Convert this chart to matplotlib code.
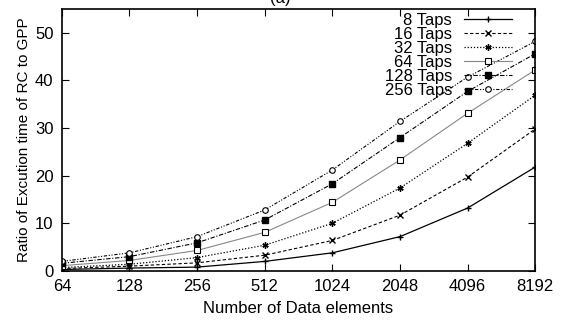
import matplotlib
matplotlib.use("Agg")
import matplotlib.pyplot as plt

plt.rcParams['font.family'] = ['Liberation Sans', 'DejaVu Sans']

data_elements = [64, 128, 256, 512, 1024, 2048, 4096, 8192]
taps_8   = [0.3, 0.6, 0.8, 2.0, 3.8, 7.2, 13.2, 21.8]
taps_16  = [0.5, 1.0, 1.7, 3.3, 6.4, 11.7, 19.7, 29.8]
taps_32  = [0.7, 1.4, 2.8, 5.4, 10.0, 17.4, 26.8, 36.9]
taps_64  = [1.1, 2.2, 4.3, 8.1, 14.4, 23.3, 33.1, 42.2]
taps_128 = [1.6, 3.0, 5.9, 10.7, 18.3, 28.0, 37.7, 45.6]
taps_256 = [2.0, 3.8, 7.2, 12.8, 21.2, 31.4, 40.7, 48.2]
labels = ['8 Taps', '16 Taps', '32 Taps', '64 Taps', '128 Taps', '256 Taps']
yticks = [0, 10, 20, 30, 40, 50]

fig = plt.figure(figsize=(5.73, 3.21), dpi=100)
ax = fig.add_axes([0.108, 0.156, 0.826, 0.816])

series = [taps_8, taps_16, taps_32, taps_64, taps_128, taps_256]
styles = [
    dict(color='black', linestyle='-', marker='+', markersize=4.5, mfc='black', lw=0.9),
    dict(color='black', linestyle=(0, (3, 2)), marker='x', markersize=4, mfc='black', lw=0.8),
    dict(color='black', linestyle=(0, (1, 1.5)), marker=(6, 2, 0), markersize=4.5, mfc='black', lw=0.9),
    dict(color='#888888', linestyle='-', marker='s', markersize=4.2, mfc='white', mec='black', mew=0.8, lw=0.8),
    dict(color='black', linestyle=(0, (4, 1.5, 1, 1.5)), marker='s', markersize=4.5, mfc='black', lw=0.8),
    dict(color='black', linestyle=(0, (3, 1.5, 1, 1.5, 1, 1.5)), marker='o', markersize=4, mfc='white', mec='black', mew=0.8, lw=0.8),
]
for vals, lab, st in zip(series, labels, styles):
    ax.plot(data_elements, vals, label=lab, **st)

ax.set_xscale('log', base=2)
ax.set_xlim(64, 8192)
ax.set_ylim(0, 55)
ax.set_xticks(data_elements)
ax.set_xticklabels([str(v) for v in data_elements])
ax.minorticks_off()
ax.set_yticks(yticks)
ax.tick_params(direction='in', top=True, right=True, length=5, labelsize=12, pad=6)
for s in ax.spines.values():
    s.set_linewidth(1.2)

ax.set_ylabel('Ratio of Excution time of RC to GPP', fontsize=11, labelpad=3)
ax.set_xlabel('Number of Data elements', fontsize=12, labelpad=5)
fig.text(280 / 573, 1.006, '(a)', ha='center', va='center', fontsize=12)

ax.legend(loc='upper right', bbox_to_anchor=(0.955, 0.99), frameon=False, markerfirst=False,
          fontsize=12, handlelength=2.9, handletextpad=0.7, labelspacing=-0.06,
          borderpad=0.1, borderaxespad=0.0)

fig.savefig('out.png', dpi=100)
